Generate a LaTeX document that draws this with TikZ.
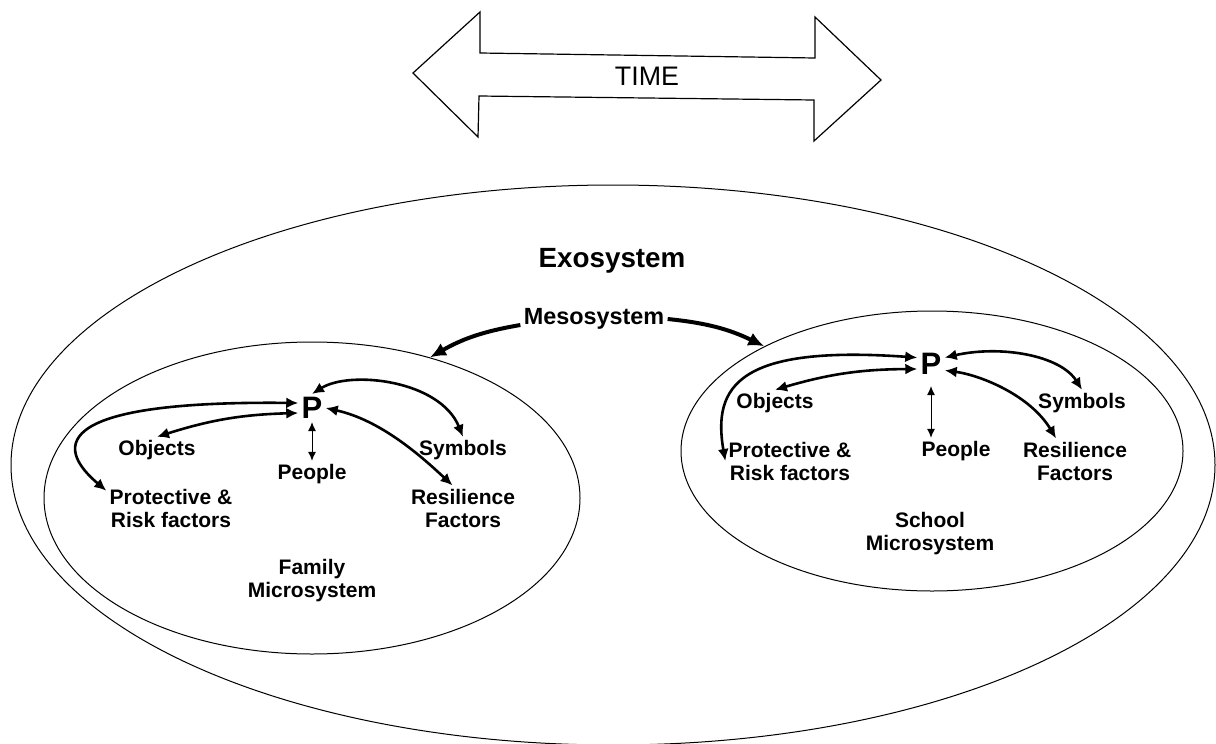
\documentclass[tikz,border=0pt]{standalone}
\usepackage{fontspec}
\setmainfont{Liberation Sans}
\usetikzlibrary{arrows.meta,shapes.geometric}

\tikzset{
  sysring/.style = {draw, ellipse, line width=0.5pt, inner sep=0pt},
  lbl/.style = {font=\fontsize{10.5}{11.5}\selectfont\bfseries,
                inner sep=1.5pt, align=center},
  pnode/.style = {font=\fontsize{15.5}{16}\selectfont\bfseries, inner sep=1.5pt},
  link/.style = {{Latex[length=6pt,width=5.5pt]}-{Latex[length=6pt,width=5.5pt]},
                 line width=1.3pt},
  thinlink/.style = {{Latex[length=4.5pt,width=4pt]}-{Latex[length=4.5pt,width=4pt]},
                     line width=0.5pt},
  mesolink/.style = {-{Latex[length=8pt,width=7pt]}, line width=2pt}
}

\begin{document}
\begin{tikzpicture}[x=0.5pt, y=-0.5pt]
\useasboundingbox (0,0) rectangle (1216,744);

% time arrow
\draw[line width=0.6pt, line join=miter] (413,73) -- (480,12) -- (480,53)
  -- (815,58) -- (815,17) -- (881,80) -- (814,141) -- (814,100)
  -- (479,96) -- (478,137) -- cycle;
\node[font=\fontsize{13.4}{15}\selectfont] (time) at (647,76) {TIME};

% systems
\node[sysring, minimum width=602pt, minimum height=280pt] (exoEl) at (613,465) {};
\node[sysring, minimum width=268pt, minimum height=156pt] (famEl) at (312,498) {};
\node[sysring, minimum width=251pt, minimum height=140pt] (schEl) at (932,451) {};

\node[font=\fontsize{13.9}{16}\selectfont\bfseries] (exoL) at (612,261) {Exosystem};
\node[font=\fontsize{11.7}{14}\selectfont\bfseries, inner sep=1.5pt] (meso) at (594,319) {Mesosystem};

\draw[mesolink] ([yshift=-3pt]meso.west) to[bend right=10] (famEl.50);
\draw[mesolink] (meso.east) to[bend left=10] (schEl.148);

% family microsystem
\node[pnode] (pL) at (312,408) {P};
\node[lbl] (objL) at (157,450) {Objects};
\node[lbl] (peoL) at (312,474) {People};
\node[lbl] (symL) at (463,450) {Symbols};
\node[lbl] (proL) at (171,508) {Protective \&\\Risk factors};
\node[lbl] (resL) at (463,508) {Resilience\\Factors};
\node[lbl] (famL) at (312,581) {Family\\Microsystem};

\draw[link] (objL.north) to[bend left=8] (pL.200);
\draw[link] (pL.160) .. controls (20,400) and (70,460) .. (proL.165);
\draw[thinlink] (pL.south) -- (peoL.north);
\draw[link] (pL.north) .. controls (350,370) and (440,380) .. (symL.north);
\draw[link] (pL.east) .. controls (380,420) and (420,455) .. (resL.115);

% school microsystem
\node[pnode] (pR) at (931,364) {P};
\node[lbl] (objR) at (775,403) {Objects};
\node[lbl] (peoR) at (956,451) {People};
\node[lbl] (symR) at (1082,403) {Symbols};
\node[lbl] (proR) at (790,461) {Protective \&\\Risk factors};
\node[lbl] (resR) at (1075,461) {Resilience\\Factors};
\node[lbl] (schL) at (930,534) {School\\Microsystem};

\draw[link] (objR.north) to[bend left=8] (pR.200);
\draw[link] (pR.155) .. controls (740,345) and (712,385) .. (proR.west);
\draw[thinlink] ([yshift=-4pt]pR.south) -- (pR.south |- peoR.north);
\draw[link] (pR.25) .. controls (1000,345) and (1060,355) .. (symR.north);
\draw[link] (pR.-25) .. controls (980,375) and (1030,395) .. (resR.130);

\end{tikzpicture}
\end{document}
